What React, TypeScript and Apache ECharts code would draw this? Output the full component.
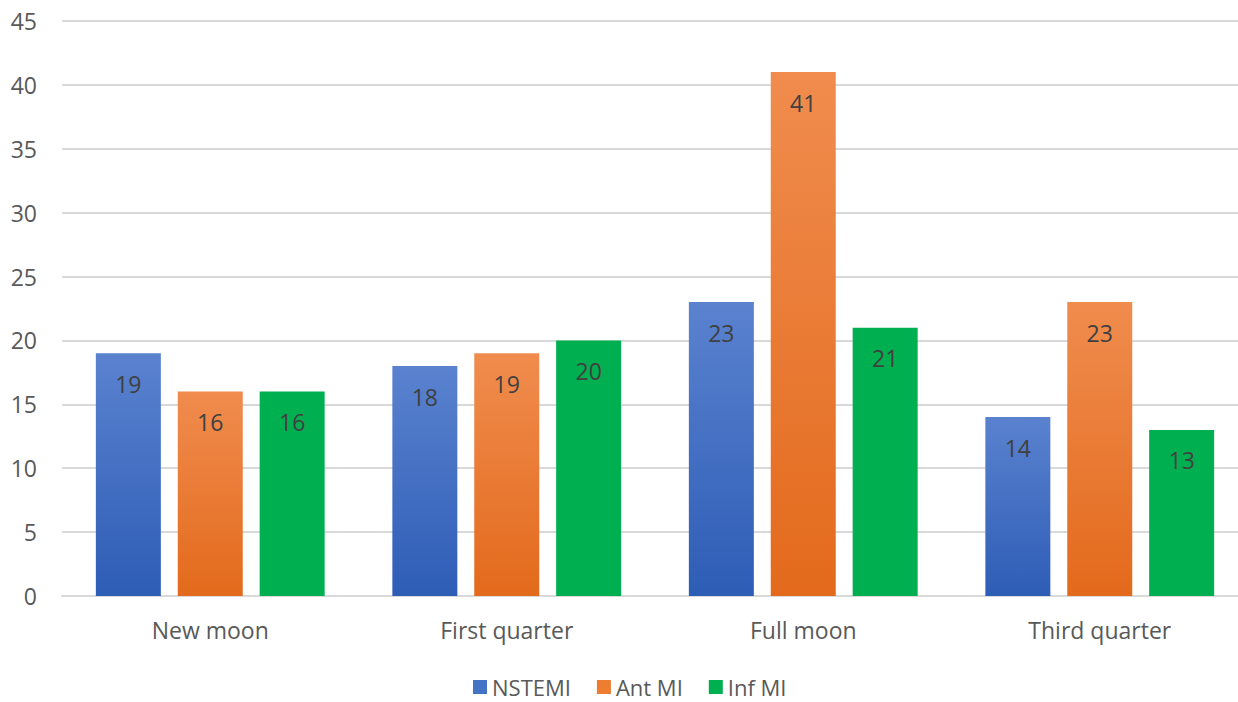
import React, { useEffect, useRef } from "react";
import * as echarts from "echarts";

const categories = ["New moon", "First quarter", "Full moon", "Third quarter"];
const nstemi = [19, 18, 23, 14];
const antMI = [16, 19, 41, 23];
const infMI = [16, 20, 21, 13];
const seriesNames = ["NSTEMI", "Ant MI", "Inf MI"];

const FONT = "'Open Sans', sans-serif";
const FS = 23;

export default function App() {
  const ref = useRef<HTMLDivElement>(null);
  useEffect(() => {
    if (!ref.current) return;
    const chart = echarts.init(ref.current, undefined, { renderer: "svg" });
    const grad = (top: string, bottom: string) =>
      new echarts.graphic.LinearGradient(0, 0, 0, 1, [
        { offset: 0, color: top },
        { offset: 1, color: bottom },
      ]);
    const label = {
      show: true,
      position: "insideTop",
      distance: 19,
      color: "#404040",
      fontSize: FS,
      fontFamily: FONT,
    };
    const mk = (name: string, data: number[], color: any) => ({
      name,
      type: "bar",
      data,
      barWidth: 65,
      barGap: "26%",
      itemStyle: { color },
      label,
    });
    chart.setOption({
      animation: false,
      backgroundColor: "#ffffff",
      color: ["#4472c4", "#ed7d31", "#00b050"],
      grid: { left: 62, right: 2, top: 21, bottom: 106 },
      legend: {
        top: 676,
        left: 473,
        padding: 0,
        itemWidth: 14,
        itemHeight: 14,
        itemGap: 26,
        icon: "rect",
        textStyle: { color: "#595959", fontSize: 22, lineHeight: 20, fontFamily: FONT },
        data: [
          { name: seriesNames[0], itemStyle: { color: "#4472c4" } },
          { name: seriesNames[1], itemStyle: { color: "#ed7d31" } },
          { name: seriesNames[2], itemStyle: { color: "#00b050" } },
        ],
      },
      xAxis: {
        type: "category",
        data: categories,
        axisTick: { show: false },
        axisLine: { lineStyle: { color: "#d9d9d9", width: 2 } },
        axisLabel: { color: "#595959", fontSize: FS, fontFamily: FONT, margin: 22 },
      },
      yAxis: {
        type: "value",
        min: 0,
        max: 45,
        interval: 5,
        axisLine: { show: false },
        axisTick: { show: false },
        splitLine: { lineStyle: { color: "#d9d9d9", width: 2 } },
        axisLabel: { color: "#595959", fontSize: FS, fontFamily: FONT, margin: 25 },
      },
      series: [
        mk(seriesNames[0], nstemi, grad("#5a82cf", "#2e5db6")),
        mk(seriesNames[1], antMI, grad("#f08c4e", "#e36a1c")),
        mk(seriesNames[2], infMI, "#00b050"),
      ],
    });
    return () => chart.dispose();
  }, []);
  return (
    <div
      ref={ref}
      style={{ position: "fixed", left: 0, top: 0, width: 1250, height: 702 }}
    />
  );
}
